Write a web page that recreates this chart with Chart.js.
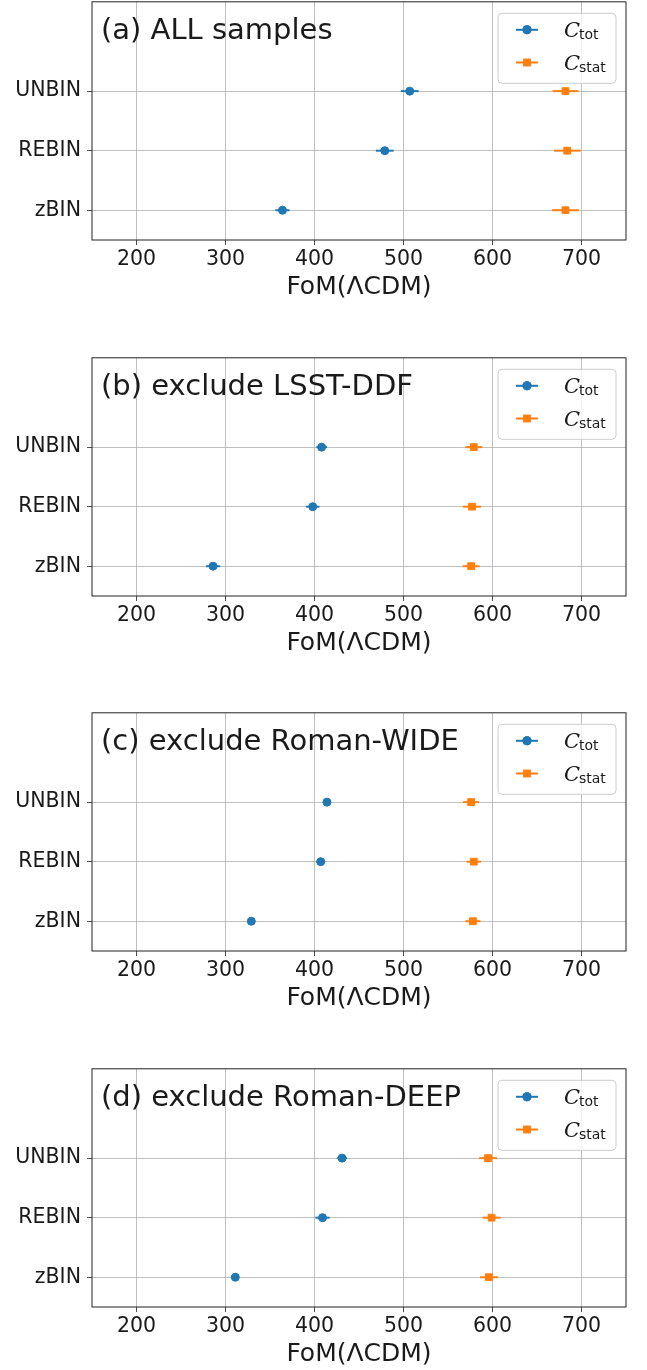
<!DOCTYPE html>
<html>
<head>
<meta charset="utf-8">
<script src="https://cdn.jsdelivr.net/npm/chart.js@4.4.1/dist/chart.umd.min.js"></script>
<style>
  body { margin: 0; background: #fff; width: 647px; height: 1370px; overflow: hidden; position: relative; }
  canvas { position: absolute; left: 0; }
</style>
</head>
<body>
<canvas id="panelA" width="647" height="356" style="top:-4px"></canvas>
<canvas id="panelB" width="647" height="356" style="top:352px"></canvas>
<canvas id="panelC" width="647" height="356" style="top:707px"></canvas>
<canvas id="panelD" width="647" height="356" style="top:1063px"></canvas>
<script>
'use strict';

// rows, listed bottom to top (y = 0, 1, 2)
const rowLabels = ['zBIN', 'REBIN', 'UNBIN'];
const xTicks = [200, 300, 400, 500, 600, 700];
const panelTitles = ['(a) ALL samples', '(b) exclude LSST-DDF', '(c) exclude Roman-WIDE', '(d) exclude Roman-DEEP'];

// FoM with the full covariance (C_tot) and its scatter
const totA = [364, 479, 507];
const totErrA = [8, 10, 10];
const totB = [286, 398, 408];
const totErrB = [8, 7.5, 6];
const totC = [329, 407, 414];
const totErrC = [3, 5, 3];
const totD = [311, 409, 431];
const totErrD = [3, 8, 5.5];

// FoM with statistical covariance only (C_stat)
const statA = [682, 684, 682];
const statErrA = [15, 15, 14.5];
const statB = [576, 577, 579];
const statErrB = [9.5, 10, 9.5];
const statC = [578, 579, 576];
const statErrC = [8.5, 8, 9];
const statD = [596, 599, 595];
const statErrD = [10, 10, 10];

const colorTot = '#1f77b4';
const colorStat = '#ff7f0e';
const textColor = '#1a1a1a';

// horizontal error bars, drawn under the markers
const errorBarPlugin = {
  id: 'errorBars',
  beforeDatasetsDraw(chart) {
    const ctx = chart.ctx;
    const xs = chart.scales.x;
    const ys = chart.scales.y;
    chart.data.datasets.forEach(ds => {
      ctx.save();
      ctx.strokeStyle = ds.backgroundColor;
      ctx.lineWidth = 2;
      ds.data.forEach((p, i) => {
        const err = ds.errors[i];
        const y = ys.getPixelForValue(p.y);
        ctx.beginPath();
        ctx.moveTo(xs.getPixelForValue(p.x - err), y);
        ctx.lineTo(xs.getPixelForValue(p.x + err), y);
        ctx.stroke();
      });
      ctx.restore();
    });
  }
};

// box around the plot area
const framePlugin = {
  id: 'frame',
  afterDatasetsDraw(chart) {
    const a = chart.chartArea;
    const ctx = chart.ctx;
    ctx.save();
    ctx.strokeStyle = '#222';
    ctx.lineWidth = 1;
    ctx.strokeRect(a.left, a.top, a.right - a.left, a.bottom - a.top);
    ctx.restore();
  }
};

// panel caption and the legend with C_tot / C_stat
const annotatePlugin = {
  id: 'annotate',
  afterDraw(chart, args, opts) {
    const ctx = chart.ctx;
    const a = chart.chartArea;
    ctx.save();
    ctx.fillStyle = textColor;
    ctx.font = '29px "DejaVu Sans"';
    ctx.textBaseline = 'alphabetic';
    ctx.textAlign = 'left';
    ctx.fillText(opts.caption, a.left + 9, a.top + 37);

    // legend box
    const bx = 498, by = a.top + 11.5, bw = 118, bh = 70;
    ctx.beginPath();
    ctx.roundRect(bx, by, bw, bh, 4);
    ctx.fillStyle = 'rgba(255,255,255,0.8)';
    ctx.fill();
    ctx.strokeStyle = '#cccccc';
    ctx.lineWidth = 1;
    ctx.stroke();

    chart.data.datasets.forEach((ds, i) => {
      const cy = a.top + 28 + i * 32.7;
      ctx.strokeStyle = ds.backgroundColor;
      ctx.fillStyle = ds.backgroundColor;
      ctx.lineWidth = 2;
      ctx.beginPath();
      ctx.moveTo(516, cy);
      ctx.lineTo(538, cy);
      ctx.stroke();
      Chart.helpers.drawPoint(ctx, {
        pointStyle: ds.pointStyle,
        radius: ds.pointRadius + 0.5,
        borderWidth: 0,
        rotation: 0
      }, 527, cy);
      ctx.fill();

      ctx.fillStyle = textColor;
      ctx.font = 'italic 21px "DejaVu Serif"';
      ctx.fillText('C', 564, cy + 7);
      ctx.font = '14px "DejaVu Sans"';
      ctx.fillText(ds.label, 579, cy + 9.5);
    });
    ctx.restore();
  }
};

function makePoints(values) {
  return values.map((v, i) => ({ x: v, y: i }));
}

function makePanel(canvasId, caption, tot, totErr, stat, statErr) {
  const ctx = document.getElementById(canvasId).getContext('2d');
  return new Chart(ctx, {
    type: 'scatter',
    data: {
      datasets: [
        {
          label: 'tot',
          data: makePoints(tot),
          errors: totErr,
          backgroundColor: colorTot,
          borderColor: colorTot,
          pointStyle: 'circle',
          pointRadius: 4,
          borderWidth: 1
        },
        {
          label: 'stat',
          data: makePoints(stat),
          errors: statErr,
          backgroundColor: colorStat,
          borderColor: colorStat,
          pointStyle: 'rect',
          pointRadius: 4.8,
          borderWidth: 1
        }
      ]
    },
    options: {
      responsive: false,
      animation: false,
      devicePixelRatio: 1,
      layout: { padding: { top: 4, right: 21, bottom: 42, left: 0 } },
      plugins: {
        legend: { display: false },
        tooltip: { enabled: false },
        annotate: { caption: caption }
      },
      scales: {
        x: {
          type: 'linear',
          min: 150,
          max: 750,
          afterBuildTicks: s => { s.ticks = xTicks.map(v => ({ value: v })); },
          afterFit: s => { s.height = 70; s.paddingLeft = 0; s.paddingRight = 0; },
          grid: { color: '#b0b0b0', lineWidth: 0.8, tickColor: '#222', tickLength: 5 },
          border: { display: false },
          ticks: {
            autoSkip: false,
            maxRotation: 0,
            padding: 2,
            color: textColor,
            font: { family: 'DejaVu Sans', size: 20.5 }
          },
          title: {
            display: true,
            text: 'FoM(ΛCDM)',
            color: textColor,
            font: { family: 'DejaVu Sans', size: 25 },
            padding: { top: 0, bottom: 8 }
          }
        },
        y: {
          type: 'linear',
          min: -0.5,
          max: 3.5,
          afterBuildTicks: s => { s.ticks = rowLabels.map((_, i) => ({ value: i })); },
          afterFit: s => { s.width = 92; s.paddingTop = 0; s.paddingBottom = 0; },
          grid: { color: '#b0b0b0', lineWidth: 0.8, tickColor: '#222', tickLength: 5 },
          border: { display: false },
          ticks: {
            callback: v => rowLabels[v],
            padding: 6,
            color: textColor,
            font: { family: 'DejaVu Sans', size: 20.5 }
          }
        }
      }
    },
    plugins: [errorBarPlugin, framePlugin, annotatePlugin]
  });
}

makePanel('panelA', panelTitles[0], totA, totErrA, statA, statErrA);
makePanel('panelB', panelTitles[1], totB, totErrB, statB, statErrB);
makePanel('panelC', panelTitles[2], totC, totErrC, statC, statErrC);
makePanel('panelD', panelTitles[3], totD, totErrD, statD, statErrD);
</script>
</body>
</html>
